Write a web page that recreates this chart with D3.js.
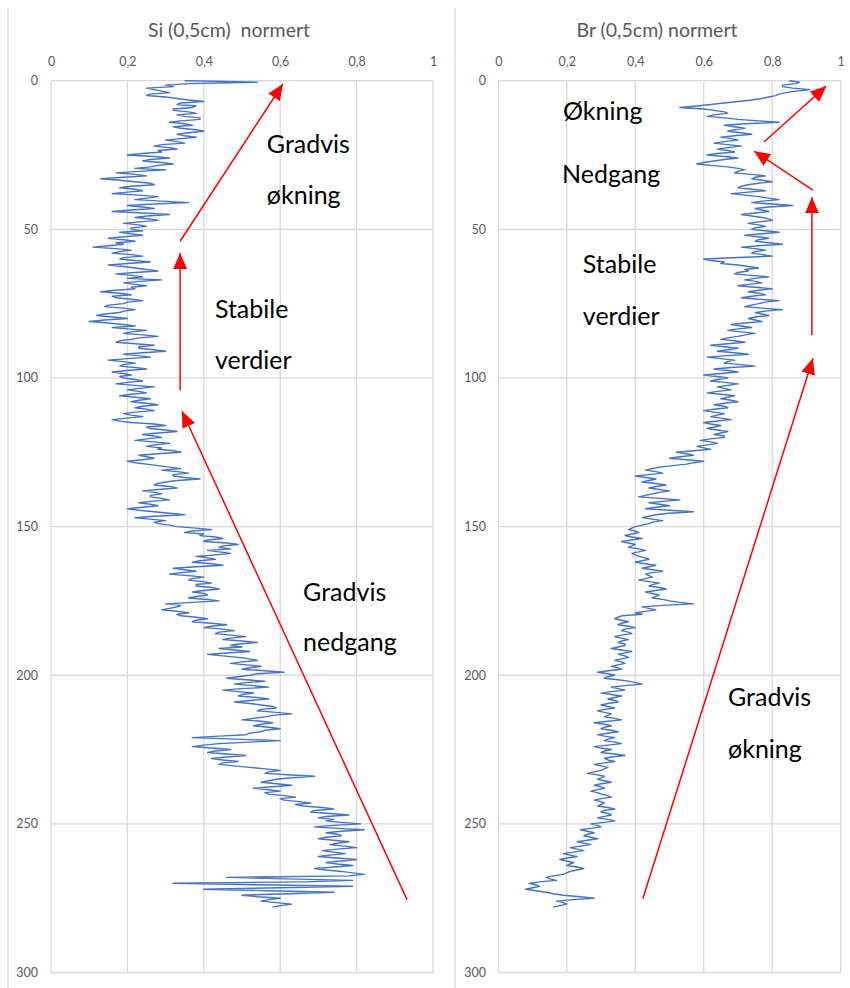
<!DOCTYPE html>
<html><head><meta charset="utf-8">
<script src="https://cdn.jsdelivr.net/npm/d3@7"></script>
<style>body{margin:0;background:#fff} svg{display:block}</style>
</head><body>
<svg id="chart" width="850" height="988"></svg>
<script>
// ---------------- DATA ----------------
const depthStep = 0.5; // cm between samples (0,5 cm resolution)
const siValues = [
0.35,0.54,0.36,0.30,0.32,0.25,0.27,0.29,0.31,0.26,0.25,0.30,0.33,0.36,0.40,0.34,0.33,0.38,0.37,0.32,
0.32,0.36,0.38,0.33,0.35,0.39,0.39,0.34,0.31,0.35,0.37,0.32,0.34,0.38,0.40,0.36,0.33,0.35,0.38,0.34,
0.30,0.33,0.35,0.29,0.27,0.31,0.33,0.28,0.29,0.24,0.20,0.27,0.31,0.26,0.24,0.29,0.32,0.28,0.26,0.22,
0.30,0.23,0.17,0.22,0.25,0.19,0.13,0.18,0.22,0.26,0.27,0.21,0.18,0.22,0.24,0.20,0.16,0.23,0.28,0.25,
0.22,0.29,0.36,0.27,0.20,0.24,0.27,0.21,0.16,0.24,0.31,0.25,0.22,0.26,0.28,0.23,0.19,0.23,0.25,0.21,
0.21,0.24,0.18,0.21,0.24,0.19,0.15,0.19,0.22,0.17,0.19,0.15,0.11,0.17,0.21,0.18,0.16,0.21,0.24,0.19,
0.18,0.22,0.26,0.20,0.15,0.19,0.22,0.25,0.28,0.22,0.17,0.21,0.24,0.20,0.29,0.23,0.19,0.22,0.25,0.21,
0.22,0.17,0.13,0.18,0.21,0.16,0.17,0.21,0.24,0.20,0.19,0.15,0.14,0.19,0.22,0.19,0.18,0.14,0.12,0.16,
0.20,0.14,0.10,0.15,0.19,0.22,0.16,0.20,0.25,0.21,0.19,0.24,0.28,0.23,0.21,0.18,0.17,0.22,0.27,0.23,
0.23,0.27,0.30,0.24,0.19,0.23,0.26,0.20,0.15,0.19,0.22,0.19,0.18,0.22,0.25,0.20,0.16,0.19,0.21,0.18,
0.19,0.22,0.24,0.20,0.17,0.22,0.27,0.23,0.20,0.23,0.25,0.21,0.18,0.22,0.26,0.23,0.21,0.25,0.28,0.24,
0.22,0.25,0.27,0.22,0.19,0.21,0.24,0.20,0.16,0.18,0.21,0.27,0.30,0.25,0.26,0.30,0.33,0.28,0.24,0.27,
0.29,0.25,0.22,0.27,0.31,0.27,0.25,0.29,0.28,0.32,0.34,0.28,0.23,0.25,0.27,0.24,0.20,0.22,0.25,0.28,
0.31,0.34,0.29,0.33,0.36,0.32,0.32,0.35,0.39,0.33,0.30,0.28,0.27,0.31,0.33,0.28,0.24,0.27,0.29,0.26,
0.26,0.29,0.31,0.26,0.23,0.26,0.28,0.24,0.20,0.23,0.27,0.31,0.35,0.27,0.22,0.26,0.30,0.27,0.28,0.31,
0.33,0.38,0.42,0.37,0.35,0.40,0.39,0.43,0.45,0.41,0.40,0.46,0.49,0.45,0.44,0.47,0.41,0.44,0.47,0.43,
0.38,0.41,0.43,0.39,0.37,0.42,0.45,0.38,0.32,0.35,0.38,0.34,0.31,0.36,0.40,0.37,0.36,0.40,0.42,0.38,
0.38,0.42,0.44,0.40,0.37,0.40,0.41,0.38,0.36,0.41,0.44,0.37,0.30,0.34,0.33,0.31,0.29,0.33,0.36,0.33,
0.34,0.38,0.41,0.38,0.37,0.42,0.46,0.42,0.40,0.45,0.48,0.44,0.43,0.47,0.51,0.47,0.45,0.50,0.54,0.49,
0.47,0.50,0.44,0.48,0.52,0.46,0.41,0.45,0.49,0.52,0.54,0.50,0.47,0.51,0.55,0.52,0.50,0.56,0.61,0.54,
0.52,0.49,0.46,0.51,0.56,0.51,0.48,0.53,0.57,0.50,0.45,0.49,0.53,0.50,0.49,0.54,0.57,0.52,0.48,0.52,
0.55,0.58,0.59,0.55,0.54,0.59,0.63,0.58,0.56,0.53,0.50,0.55,0.58,0.55,0.53,0.57,0.60,0.56,0.55,0.52,
0.51,0.44,0.37,0.48,0.60,0.52,0.44,0.40,0.37,0.42,0.47,0.43,0.41,0.46,0.51,0.46,0.42,0.45,0.49,0.45,
0.44,0.48,0.52,0.56,0.60,0.57,0.56,0.62,0.69,0.63,0.59,0.57,0.55,0.59,0.63,0.58,0.53,0.57,0.60,0.56,
0.57,0.61,0.64,0.60,0.61,0.65,0.68,0.64,0.66,0.71,0.74,0.69,0.68,0.73,0.78,0.72,0.70,0.74,0.72,0.76,
0.81,0.74,0.69,0.75,0.82,0.76,0.72,0.75,0.76,0.72,0.70,0.74,0.78,0.75,0.73,0.77,0.80,0.75,0.71,0.74,
0.77,0.73,0.70,0.75,0.80,0.76,0.72,0.75,0.79,0.74,0.69,0.72,0.76,0.79,0.82,0.78,0.46,0.62,0.79,0.66,
0.32,0.55,0.79,0.60,0.40,0.57,0.74,0.62,0.50,0.54,0.60,0.57,0.55,0.59,0.63,0.60,0.58
];
const brValues = [
0.85,0.88,0.87,0.83,0.83,0.86,0.91,0.87,0.84,0.82,0.81,0.79,0.77,0.74,0.70,0.66,0.62,0.58,0.53,0.60,
0.63,0.66,0.67,0.63,0.61,0.66,0.70,0.76,0.82,0.72,0.66,0.69,0.72,0.69,0.67,0.71,0.74,0.69,0.65,0.68,
0.70,0.66,0.63,0.67,0.71,0.67,0.64,0.67,0.69,0.64,0.61,0.66,0.70,0.66,0.63,0.60,0.58,0.62,0.67,0.70,
0.72,0.70,0.69,0.74,0.78,0.75,0.74,0.77,0.80,0.76,0.73,0.71,0.70,0.74,0.78,0.73,0.68,0.72,0.76,0.79,
0.82,0.77,0.74,0.80,0.86,0.79,0.75,0.77,0.79,0.75,0.71,0.74,0.77,0.79,0.80,0.76,0.73,0.76,0.78,0.75,
0.74,0.78,0.82,0.77,0.72,0.76,0.79,0.76,0.75,0.79,0.83,0.76,0.71,0.75,0.78,0.75,0.74,0.77,0.80,0.70,
0.60,0.62,0.66,0.65,0.70,0.73,0.76,0.72,0.73,0.70,0.69,0.74,0.79,0.75,0.72,0.75,0.77,0.73,0.70,0.75,
0.80,0.76,0.73,0.76,0.78,0.74,0.71,0.76,0.82,0.78,0.76,0.74,0.72,0.77,0.83,0.78,0.75,0.77,0.79,0.75,
0.73,0.75,0.77,0.72,0.68,0.71,0.74,0.70,0.67,0.71,0.75,0.72,0.70,0.67,0.65,0.69,0.72,0.67,0.62,0.66,
0.70,0.67,0.64,0.69,0.73,0.67,0.61,0.65,0.69,0.67,0.66,0.71,0.75,0.68,0.63,0.67,0.70,0.65,0.60,0.64,
0.67,0.64,0.62,0.66,0.70,0.67,0.64,0.66,0.68,0.64,0.61,0.65,0.69,0.67,0.65,0.68,0.70,0.66,0.63,0.66,
0.67,0.63,0.60,0.63,0.66,0.64,0.62,0.65,0.68,0.64,0.60,0.62,0.65,0.63,0.61,0.64,0.67,0.65,0.63,0.66,
0.66,0.62,0.59,0.62,0.64,0.61,0.58,0.60,0.62,0.57,0.52,0.55,0.57,0.53,0.50,0.55,0.60,0.57,0.55,0.51,
0.47,0.45,0.43,0.46,0.48,0.44,0.40,0.43,0.46,0.44,0.42,0.46,0.49,0.46,0.44,0.47,0.50,0.47,0.45,0.43,
0.41,0.47,0.53,0.48,0.44,0.47,0.50,0.46,0.43,0.50,0.57,0.50,0.46,0.44,0.42,0.45,0.48,0.45,0.44,0.42,
0.40,0.39,0.38,0.40,0.41,0.39,0.37,0.39,0.42,0.39,0.36,0.38,0.40,0.39,0.38,0.41,0.43,0.41,0.39,0.40,
0.41,0.43,0.44,0.42,0.40,0.43,0.46,0.44,0.42,0.45,0.48,0.45,0.43,0.44,0.45,0.43,0.41,0.44,0.47,0.45,
0.44,0.47,0.49,0.46,0.43,0.45,0.47,0.46,0.45,0.48,0.50,0.53,0.57,0.48,0.42,0.44,0.46,0.43,0.40,0.42,
0.36,0.35,0.34,0.36,0.38,0.36,0.35,0.38,0.40,0.37,0.36,0.38,0.39,0.36,0.34,0.36,0.38,0.36,0.35,0.37,
0.37,0.35,0.33,0.36,0.39,0.37,0.35,0.37,0.38,0.36,0.34,0.36,0.37,0.35,0.33,0.35,0.36,0.32,0.29,0.32,
0.34,0.32,0.31,0.35,0.38,0.40,0.42,0.37,0.33,0.35,0.37,0.33,0.30,0.33,0.36,0.34,0.32,0.34,0.35,0.32,
0.30,0.32,0.34,0.31,0.29,0.31,0.33,0.32,0.31,0.34,0.36,0.32,0.28,0.31,0.33,0.31,0.30,0.33,0.35,0.32,
0.29,0.31,0.34,0.32,0.31,0.34,0.36,0.32,0.28,0.30,0.33,0.31,0.30,0.34,0.37,0.33,0.31,0.32,0.34,0.31,
0.28,0.30,0.32,0.31,0.30,0.28,0.26,0.29,0.31,0.30,0.29,0.31,0.33,0.30,0.28,0.30,0.31,0.29,0.27,0.29,
0.30,0.32,0.33,0.30,0.28,0.30,0.31,0.30,0.29,0.32,0.34,0.31,0.30,0.32,0.33,0.31,0.29,0.32,0.34,0.31,
0.27,0.29,0.30,0.27,0.24,0.26,0.28,0.26,0.25,0.27,0.29,0.26,0.23,0.25,0.27,0.24,0.21,0.23,0.25,0.22,
0.19,0.21,0.23,0.20,0.18,0.20,0.22,0.21,0.20,0.23,0.25,0.23,0.21,0.20,0.19,0.16,0.14,0.15,0.17,0.12,
0.09,0.11,0.12,0.10,0.08,0.11,0.14,0.16,0.19,0.24,0.28,0.22,0.17,0.19,0.20,0.18,0.16
];
const xTicks = [0, 0.2, 0.4, 0.6, 0.8, 1];
const yTicks = [0, 50, 100, 150, 200, 250, 300];
const titles = ["Si (0,5cm)  normert", "Br (0,5cm) normert"];

// annotations in data units (value, depth)
const siNotes = [
  {text: "Gradvis", v: 0.565, d: 24.4},
  {text: "økning",  v: 0.565, d: 41.5},
  {text: "Stabile", v: 0.429, d: 79.9},
  {text: "verdier", v: 0.429, d: 97.1},
  {text: "Gradvis", v: 0.660, d: 174.9},
  {text: "nedgang", v: 0.660, d: 192.0}
];
const brNotes = [
  {text: "Økning",  v: 0.189, d: 13.2},
  {text: "Nedgang", v: 0.186, d: 34.5},
  {text: "Stabile", v: 0.247, d: 64.8},
  {text: "verdier", v: 0.247, d: 82.3},
  {text: "Gradvis", v: 0.671, d: 210.5},
  {text: "økning",  v: 0.671, d: 227.7}
];
const siArrows = [
  {v1: 0.338, d1: 54.0,  v2: 0.607, d2: 1.1},
  {v1: 0.338, d1: 104.1, v2: 0.338, d2: 58.0},
  {v1: 0.932, d1: 275.5, v2: 0.343, d2: 111.2}
];
const brArrows = [
  {v1: 0.776, d1: 20.6,  v2: 0.958, d2: 1.8},
  {v1: 0.919, d1: 36.8,  v2: 0.747, d2: 23.7},
  {v1: 0.916, d1: 85.6,  v2: 0.916, d2: 39.2},
  {v1: 0.422, d1: 275.2, v2: 0.919, d2: 93.4}
];

// ---------------- DRAW ----------------
const svg = d3.select("#chart");
const fmt = d => d3.format(".1~f")(d).replace(".", ",");
const LABEL = "#595959", GRID = "#d9d9d9";
const FONT = "Lato, 'Open Sans', sans-serif";

// chart-area separators
[8, 455].forEach(x => svg.append("line")
  .attr("x1", x).attr("x2", x).attr("y1", 8).attr("y2", 988)
  .attr("stroke", GRID).attr("stroke-width", 1.3));

const defs = svg.append("defs");
defs.append("marker").attr("id", "head")
  .attr("markerUnits", "userSpaceOnUse")
  .attr("viewBox", "0 0 16 14").attr("refX", 16).attr("refY", 7)
  .attr("markerWidth", 16).attr("markerHeight", 14)
  .attr("orient", "auto")
  .append("path").attr("d", "M0,0 L16,7 L0,14 Z").attr("fill", "#ff0000");

const panels = [
  {title: titles[0], values: siValues, notes: siNotes, arrows: siArrows,
   x0: 51, x1: 433, titleX: 229, ylabX: 38},
  {title: titles[1], values: brValues, notes: brNotes, arrows: brArrows,
   x0: 498.3, x1: 840.7, titleX: 657, ylabX: 486}
];
const yTop = 80.7, yBot = 972.5;

panels.forEach(p => {
  const x = d3.scaleLinear().domain([0, 1]).range([p.x0, p.x1]);
  const y = d3.scaleLinear().domain([0, 300]).range([yTop, yBot]);
  const g = svg.append("g");

  // grid
  g.selectAll(".vg").data(xTicks).join("line")
    .attr("x1", d => x(d)).attr("x2", d => x(d)).attr("y1", yTop).attr("y2", yBot)
    .attr("stroke", GRID).attr("stroke-width", 1.3);
  g.selectAll(".hg").data(yTicks).join("line")
    .attr("x1", p.x0).attr("x2", p.x1).attr("y1", d => y(d)).attr("y2", d => y(d))
    .attr("stroke", GRID).attr("stroke-width", 1.3);

  // top x axis
  const xa = g.append("g").attr("transform", `translate(0,${yTop - 12})`)
    .call(d3.axisTop(x).tickValues(xTicks).tickFormat(fmt).tickSize(0));
  xa.select(".domain").remove();
  xa.selectAll("text").attr("fill", LABEL).attr("font-family", FONT).attr("font-size", 12.5);

  // left y axis
  const ya = g.append("g").attr("transform", `translate(${p.ylabX},0)`)
    .call(d3.axisLeft(y).tickValues(yTicks).tickFormat(d3.format("d")).tickSize(0).tickPadding(0));
  ya.select(".domain").remove();
  ya.selectAll("text").attr("fill", LABEL).attr("font-family", FONT).attr("font-size", 12.5);

  // title
  g.append("text").attr("x", p.titleX).attr("y", 37).attr("text-anchor", "middle")
    .attr("fill", LABEL).attr("font-family", FONT).attr("font-size", 19.5)
    .style("white-space", "pre").text(p.title);

  // data line
  const line = d3.line().x(d => x(d)).y((d, i) => y(i * depthStep));
  g.append("path").datum(p.values).attr("d", line)
    .attr("fill", "none").attr("stroke", "#4472C4").attr("stroke-width", 1.4)
    .attr("stroke-linejoin", "round");

  // arrows
  g.selectAll(".arr").data(p.arrows).join("line")
    .attr("x1", d => x(d.v1)).attr("y1", d => y(d.d1))
    .attr("x2", d => x(d.v2)).attr("y2", d => y(d.d2))
    .attr("stroke", "#ff0000").attr("stroke-width", 1.5)
    .attr("marker-end", "url(#head)");

  // notes
  g.selectAll(".note").data(p.notes).join("text")
    .attr("x", d => x(d.v)).attr("y", d => y(d.d))
    .attr("fill", "#000").attr("font-family", FONT).attr("font-size", 25)
    .text(d => d.text);
});
</script>
</body></html>
